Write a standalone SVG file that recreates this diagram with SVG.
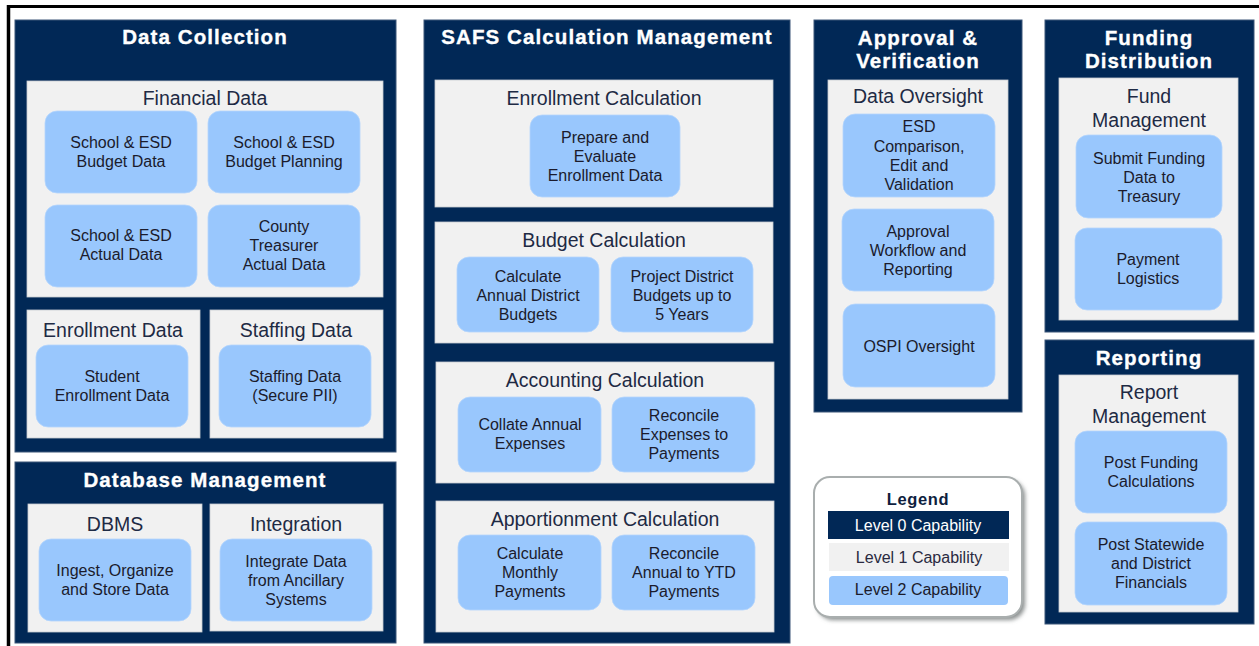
<svg xmlns="http://www.w3.org/2000/svg" width="1259" height="646" viewBox="0 0 1259 646">
<style>
.l0{fill:#012856;stroke:#3d5679;stroke-width:1}
.l1{fill:#f1f1f1;stroke:#c8ccd2;stroke-width:0.8}
.l2{fill:#99c7fd;stroke:#b5d6fd;stroke-width:0.8}
.t0{font-family:"Liberation Sans",Arial,sans-serif;font-weight:bold;font-size:20.5px;fill:#ffffff;stroke:#ffffff;stroke-width:0.35px;text-anchor:middle;letter-spacing:1.1px}
.t1{font-family:"Liberation Sans",Arial,sans-serif;font-size:19.5px;fill:#1e2a44;text-anchor:middle}
.t2{font-family:"Liberation Sans",Arial,sans-serif;font-size:16px;fill:#1b1b2c;text-anchor:middle}
.tl{font-family:"Liberation Sans",Arial,sans-serif;font-size:16px;text-anchor:middle}
</style>
<defs>
<filter id="sh" x="-10%" y="-10%" width="120%" height="125%">
<feGaussianBlur stdDeviation="2"/>
</filter>
</defs>
<rect x="0" y="0" width="1259" height="646" fill="#ffffff"/>
<g id="frame">
<line x1="7" y1="6.5" x2="1259" y2="6.5" stroke="#000" stroke-width="3"/>
<line x1="8.5" y1="5" x2="8.5" y2="646" stroke="#000" stroke-width="3.5"/>
</g>

<g id="data-collection">
<rect class="l0" x="15" y="20" width="381" height="432"/>
<text class="t0" x="205" y="44">Data Collection</text>
<g id="financial-data">
<rect class="l1" x="27" y="81" width="356" height="216"/>
<text class="t1" x="205" y="105">Financial Data</text>
<rect class="l2" x="45" y="111" width="152" height="82" rx="12"/>
<text class="t2" x="121" y="148">School &amp; ESD</text>
<text class="t2" x="121" y="167">Budget Data</text>
<rect class="l2" x="208" y="111" width="152" height="82" rx="12"/>
<text class="t2" x="284" y="148">School &amp; ESD</text>
<text class="t2" x="284" y="167">Budget Planning</text>
<rect class="l2" x="45" y="205" width="152" height="82" rx="12"/>
<text class="t2" x="121" y="241">School &amp; ESD</text>
<text class="t2" x="121" y="260">Actual Data</text>
<rect class="l2" x="208" y="205" width="152" height="82" rx="12"/>
<text class="t2" x="284" y="232">County</text>
<text class="t2" x="284" y="251">Treasurer</text>
<text class="t2" x="284" y="270">Actual Data</text>
</g>
<g id="enrollment-data">
<rect class="l1" x="27" y="310" width="173" height="128"/>
<text class="t1" x="113" y="337">Enrollment Data</text>
<rect class="l2" x="36" y="345" width="152" height="82" rx="12"/>
<text class="t2" x="112" y="382">Student</text>
<text class="t2" x="112" y="401">Enrollment Data</text>
</g>
<g id="staffing-data">
<rect class="l1" x="210" y="310" width="173" height="128"/>
<text class="t1" x="296" y="337">Staffing Data</text>
<rect class="l2" x="219" y="345" width="152" height="82" rx="12"/>
<text class="t2" x="295" y="382">Staffing Data</text>
<text class="t2" x="295" y="401">(Secure PII)</text>
</g>
</g>

<g id="database-management">
<rect class="l0" x="15" y="462" width="381" height="181"/>
<text class="t0" x="205" y="487">Database Management</text>
<g id="dbms">
<rect class="l1" x="28" y="504" width="174" height="128"/>
<text class="t1" x="115" y="531">DBMS</text>
<rect class="l2" x="39" y="539" width="152" height="82" rx="12"/>
<text class="t2" x="115" y="576">Ingest, Organize</text>
<text class="t2" x="115" y="595">and Store Data</text>
</g>
<g id="integration">
<rect class="l1" x="210" y="504" width="173" height="127"/>
<text class="t1" x="296" y="531">Integration</text>
<rect class="l2" x="220" y="539" width="152" height="82" rx="12"/>
<text class="t2" x="296" y="567">Integrate Data</text>
<text class="t2" x="296" y="586">from Ancillary</text>
<text class="t2" x="296" y="605">Systems</text>
</g>
</g>

<g id="safs-calculation-management">
<rect class="l0" x="424" y="20" width="366" height="623"/>
<text class="t0" x="607" y="44">SAFS Calculation Management</text>
<g id="enrollment-calculation">
<rect class="l1" x="435" y="80" width="338" height="127"/>
<text class="t1" x="604" y="105">Enrollment Calculation</text>
<rect class="l2" x="530" y="115" width="150" height="82" rx="12"/>
<text class="t2" x="605" y="143">Prepare and</text>
<text class="t2" x="605" y="162">Evaluate</text>
<text class="t2" x="605" y="181">Enrollment Data</text>
</g>
<g id="budget-calculation">
<rect class="l1" x="435" y="222" width="338" height="121"/>
<text class="t1" x="604" y="247">Budget Calculation</text>
<rect class="l2" x="457" y="257" width="142" height="75" rx="12"/>
<text class="t2" x="528" y="282">Calculate</text>
<text class="t2" x="528" y="301">Annual District</text>
<text class="t2" x="528" y="320">Budgets</text>
<rect class="l2" x="611" y="257" width="142" height="75" rx="12"/>
<text class="t2" x="682" y="282">Project District</text>
<text class="t2" x="682" y="301">Budgets up to</text>
<text class="t2" x="682" y="320">5 Years</text>
</g>
<g id="accounting-calculation">
<rect class="l1" x="436" y="362" width="338" height="121"/>
<text class="t1" x="605" y="387">Accounting Calculation</text>
<rect class="l2" x="458" y="397" width="143" height="75" rx="12"/>
<text class="t2" x="530" y="430">Collate Annual</text>
<text class="t2" x="530" y="449">Expenses</text>
<rect class="l2" x="612" y="397" width="143" height="75" rx="12"/>
<text class="t2" x="684" y="421">Reconcile</text>
<text class="t2" x="684" y="440">Expenses to</text>
<text class="t2" x="684" y="459">Payments</text>
</g>
<g id="apportionment-calculation">
<rect class="l1" x="436" y="501" width="338" height="131"/>
<text class="t1" x="605" y="526">Apportionment Calculation</text>
<rect class="l2" x="458" y="535" width="143" height="75" rx="12"/>
<text class="t2" x="530" y="559">Calculate</text>
<text class="t2" x="530" y="578">Monthly</text>
<text class="t2" x="530" y="597">Payments</text>
<rect class="l2" x="612" y="535" width="143" height="75" rx="12"/>
<text class="t2" x="684" y="559">Reconcile</text>
<text class="t2" x="684" y="578">Annual to YTD</text>
<text class="t2" x="684" y="597">Payments</text>
</g>
</g>

<g id="approval-verification">
<rect class="l0" x="814" y="20" width="208" height="392"/>
<text class="t0" x="918" y="45">Approval &amp;</text>
<text class="t0" x="918" y="68">Verification</text>
<g id="data-oversight">
<rect class="l1" x="828" y="80" width="180" height="319"/>
<text class="t1" x="918" y="103">Data Oversight</text>
<rect class="l2" x="843" y="114" width="152" height="83" rx="12"/>
<text class="t2" x="919" y="132">ESD</text>
<text class="t2" x="919" y="151.5">Comparison,</text>
<text class="t2" x="919" y="171">Edit and</text>
<text class="t2" x="919" y="190">Validation</text>
<rect class="l2" x="842" y="209" width="152" height="82" rx="12"/>
<text class="t2" x="918" y="237">Approval</text>
<text class="t2" x="918" y="256">Workflow and</text>
<text class="t2" x="918" y="275">Reporting</text>
<rect class="l2" x="843" y="304" width="152" height="83" rx="12"/>
<text class="t2" x="919" y="352">OSPI Oversight</text>
</g>
</g>

<g id="funding-distribution">
<rect class="l0" x="1045" y="20" width="209" height="312"/>
<text class="t0" x="1149" y="45">Funding</text>
<text class="t0" x="1149" y="68">Distribution</text>
<g id="fund-management">
<rect class="l1" x="1059" y="78" width="179" height="242"/>
<text class="t1" x="1149" y="103">Fund</text>
<text class="t1" x="1149" y="127">Management</text>
<rect class="l2" x="1076" y="135" width="146" height="83" rx="12"/>
<text class="t2" x="1149" y="164">Submit Funding</text>
<text class="t2" x="1149" y="183">Data to</text>
<text class="t2" x="1149" y="202">Treasury</text>
<rect class="l2" x="1075" y="228" width="147" height="82" rx="12"/>
<text class="t2" x="1148" y="265">Payment</text>
<text class="t2" x="1148" y="284">Logistics</text>
</g>
</g>

<g id="reporting">
<rect class="l0" x="1045" y="340" width="209" height="284"/>
<text class="t0" x="1149" y="365">Reporting</text>
<g id="report-management">
<rect class="l1" x="1059" y="375" width="179" height="237"/>
<text class="t1" x="1149" y="399">Report</text>
<text class="t1" x="1149" y="423">Management</text>
<rect class="l2" x="1075" y="431" width="152" height="82" rx="12"/>
<text class="t2" x="1151" y="468">Post Funding</text>
<text class="t2" x="1151" y="487">Calculations</text>
<rect class="l2" x="1075" y="522" width="152" height="83" rx="12"/>
<text class="t2" x="1151" y="550">Post Statewide</text>
<text class="t2" x="1151" y="569">and District</text>
<text class="t2" x="1151" y="588">Financials</text>
</g>
</g>

<g id="legend">
<rect x="817" y="480" width="208" height="140" rx="16" fill="#8a8f8f" filter="url(#sh)"/>
<rect x="814" y="477" width="208" height="140" rx="16" fill="#ffffff" stroke="#a9aeae" stroke-width="2"/>
<text x="918" y="505" style="font-family:'Liberation Sans',Arial,sans-serif;font-weight:bold;font-size:16.5px;fill:#0f1f3f;text-anchor:middle;letter-spacing:0.6px">Legend</text>
<rect x="828" y="511" width="181" height="28" fill="#012856"/>
<text class="tl" x="918" y="531" fill="#ffffff">Level 0 Capability</text>
<rect x="829" y="543" width="180" height="28" fill="#f1f1f1"/>
<text class="tl" x="919" y="563" fill="#2a2a40">Level 1 Capability</text>
<rect x="829" y="576" width="179" height="29" rx="4" fill="#99c7fd"/>
<text class="tl" x="918" y="595" fill="#1b1b2c">Level 2 Capability</text>
</g>
<g id="connectors"></g>
</svg>
